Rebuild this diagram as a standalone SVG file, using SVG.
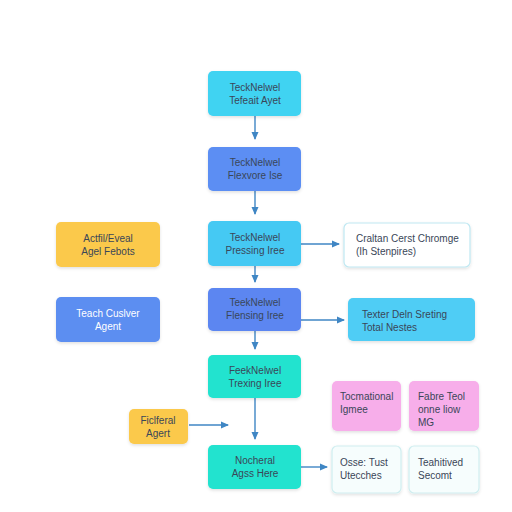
<svg xmlns="http://www.w3.org/2000/svg" width="512" height="512" viewBox="0 0 512 512">
<defs>
<marker id="ah" markerWidth="8" markerHeight="8" refX="7" refY="4" orient="auto" markerUnits="userSpaceOnUse">
<path d="M0,0.5 L8,4 L0,7.5 z" fill="#3f86c4"/>
</marker>
<filter id="sh" x="-20%" y="-20%" width="140%" height="150%">
<feDropShadow dx="0" dy="1.5" stdDeviation="1.5" flood-color="#000" flood-opacity="0.12"/>
</filter>
</defs>
<style>
text{font-family:"Liberation Sans",Arial,sans-serif;font-size:10px;fill:#3a4658;text-anchor:middle}
.l{text-anchor:start}
.box{filter:url(#sh)}
.ln{stroke:#3f86c4;stroke-width:1.4;fill:none}
.wt{fill:#ffffff}
</style>
<rect width="512" height="512" fill="#ffffff"/>
<g id="connectors">
<line class="ln" x1="255" y1="116" x2="255" y2="139" marker-end="url(#ah)"/>
<line class="ln" x1="255" y1="191" x2="255" y2="214" marker-end="url(#ah)"/>
<line class="ln" x1="255" y1="266" x2="255" y2="282" marker-end="url(#ah)"/>
<line class="ln" x1="255" y1="331" x2="255" y2="349" marker-end="url(#ah)"/>
<line class="ln" x1="255" y1="398" x2="255" y2="439" marker-end="url(#ah)"/>
<line class="ln" x1="301" y1="244" x2="339" y2="244" marker-end="url(#ah)"/>
<line class="ln" x1="301" y1="320" x2="344" y2="320" marker-end="url(#ah)"/>
<line class="ln" x1="189" y1="425" x2="228" y2="425" marker-end="url(#ah)"/>
<line class="ln" x1="301" y1="467" x2="327" y2="467" marker-end="url(#ah)"/>
</g>
<g id="n1"><rect class="box" x="208" y="71" width="93" height="45" rx="5" fill="#3fd3f2"/>
<text x="255" y="91">TeckNelwel</text><text x="255" y="104">Tefeait Ayet</text></g>
<g id="n2"><rect class="box" x="208" y="147" width="93" height="44" rx="5" fill="#5b8ef3"/>
<text x="255" y="166">TeckNelwel</text><text x="255" y="179">Flexvore Ise</text></g>
<g id="n3"><rect class="box" x="208" y="221" width="93" height="45" rx="5" fill="#45c9f3"/>
<text x="255" y="241">TeckNelwel</text><text x="255" y="254">Pressing Iree</text></g>
<g id="n4"><rect class="box" x="208" y="288" width="93" height="43" rx="5" fill="#5b86f1"/>
<text x="255" y="306">TeekNelwel</text><text x="255" y="319">Flensing Iree</text></g>
<g id="n5"><rect class="box" x="208" y="355" width="93" height="43" rx="5" fill="#22e3cf"/>
<text x="255" y="374">FeekNelwel</text><text x="255" y="387">Trexing Iree</text></g>
<g id="n6"><rect class="box" x="208" y="445" width="93" height="44" rx="5" fill="#22e3cf"/>
<text x="255" y="464">Nocheral</text><text x="255" y="477">Agss Here</text></g>
<g id="l1"><rect class="box" x="56" y="222" width="104" height="45" rx="5" fill="#fbc94c"/>
<text x="108" y="242">Actfil/Eveal</text><text x="108" y="255">Agel Febots</text></g>
<g id="l2"><rect class="box" x="56" y="297" width="104" height="45" rx="5" fill="#5b8ef1"/>
<text class="wt" x="108" y="317">Teach Cuslver</text><text class="wt" x="108" y="330">Agent</text></g>
<g id="l3"><rect class="box" x="129" y="409" width="59" height="35" rx="5" fill="#fbc94c"/>
<text x="158" y="424">Ficlferal</text><text x="158" y="437">Agert</text></g>
<g id="r1"><rect class="box" x="344" y="223" width="126" height="44" rx="5" fill="#ffffff" stroke="#bfe8f2" stroke-width="1.2"/>
<text class="l" x="356" y="242">Craltan Cerst Chromge</text><text class="l" x="356" y="255">(Ih Stenpires)</text></g>
<g id="r2"><rect class="box" x="348" y="298" width="127" height="43" rx="5" fill="#4fcdf5"/>
<text class="l" x="362" y="318">Texter Deln Sreting</text><text class="l" x="362" y="331">Total Nestes</text></g>
<g id="p1"><rect class="box" x="332" y="381" width="69" height="50" rx="5" fill="#f7aeea"/>
<text class="l" x="340" y="400">Tocmational</text><text class="l" x="340" y="413">Igmee</text></g>
<g id="p2"><rect class="box" x="409" y="381" width="70" height="50" rx="5" fill="#f7aeea"/>
<text class="l" x="418" y="400">Fabre Teol</text><text class="l" x="418" y="413">onne liow</text><text class="l" x="418" y="426">MG</text></g>
<g id="w1"><rect class="box" x="332" y="446" width="69" height="47" rx="5" fill="#f6fdfd" stroke="#cfeef0" stroke-width="1.2"/>
<text class="l" x="340" y="466">Osse: Tust</text><text class="l" x="340" y="479">Utecches</text></g>
<g id="w2"><rect class="box" x="409" y="446" width="70" height="47" rx="5" fill="#f6fdfd" stroke="#cfeef0" stroke-width="1.2"/>
<text class="l" x="418" y="466">Teahitived</text><text class="l" x="418" y="479">Secomt</text></g>
</svg>
